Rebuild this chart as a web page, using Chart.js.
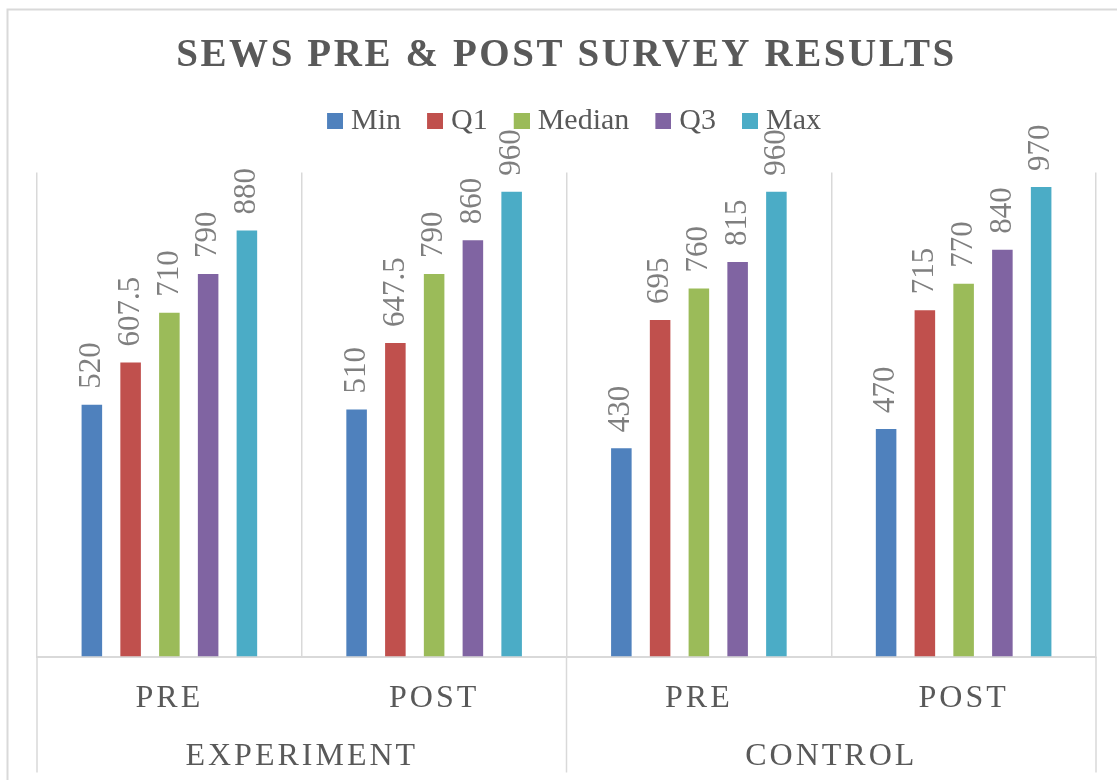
<!DOCTYPE html>
<html>
<head>
<meta charset="utf-8">
<title>SEWS Pre &amp; Post Survey Results</title>
<script src="https://cdn.jsdelivr.net/npm/chart.js@4.4.1/dist/chart.umd.min.js"></script>
<style>
  html, body { margin: 0; padding: 0; background: #fff; }
</style>
</head>
<body>
<canvas id="survey" width="1117" height="780"></canvas>
<script>
const categories = ['PRE', 'POST', 'PRE', 'POST'];
const groups = ['EXPERIMENT', 'CONTROL'];
const seriesNames = ['Min', 'Q1', 'Median', 'Q3', 'Max'];
const minValues = [520, 510, 430, 470];
const q1Values = [607.5, 647.5, 695, 715];
const medianValues = [710, 790, 760, 770];
const q3Values = [790, 860, 815, 840];
const maxValues = [880, 960, 960, 970];

const seriesValues = [minValues, q1Values, medianValues, q3Values, maxValues];
const seriesColors = ['#4f81bd', '#c0504d', '#9bbb59', '#8064a2', '#4bacc6'];

const serif = "'Liberation Serif', 'Times New Roman', serif";
const textColor = '#595959';
const lineColor = '#d9d9d9';

Chart.defaults.font.family = serif;
Chart.defaults.color = textColor;

// legend marker: transparent left part so the square sits close to its text
function legendMarker(color) {
  const c = document.createElement('canvas');
  c.width = 38;
  c.height = 16;
  const g = c.getContext('2d');
  g.fillStyle = color;
  g.fillRect(22, 0, 16, 16);
  return c;
}

// wraps a draw method so its text is drawn with letter spacing
function spaced(obj, method, amount) {
  if (!obj || obj[method]._spaced) return;
  const original = obj[method];
  const wrapped = function (...args) {
    const ctx = this.ctx;
    const before = ctx.letterSpacing;
    ctx.letterSpacing = amount;
    original.apply(this, args);
    ctx.letterSpacing = before;
  };
  wrapped._spaced = true;
  obj[method] = wrapped;
}

const layoutTweaks = {
  id: 'layoutTweaks',
  afterInit(chart) {
    const fit = chart.legend.fit;
    chart.legend.fit = function () {
      fit.call(this);
      this.height += 26;
    };
  },
  beforeDraw(chart) {
    spaced(chart.titleBlock, 'draw', '2.6px');
    spaced(chart.scales.x, 'drawLabels', '3px');
    spaced(chart.scales.x2, 'drawLabels', '3px');

    const ctx = chart.ctx;
    ctx.save();
    ctx.strokeStyle = lineColor;
    ctx.lineWidth = 2;
    ctx.beginPath();
    ctx.moveTo(7.5, chart.height);
    ctx.lineTo(7.5, 9.5);
    ctx.lineTo(chart.width, 9.5);
    ctx.stroke();
    ctx.restore();
  },
  afterDraw(chart) {
    // group separators running down through both label rows
    const x = chart.scales.x;
    const x2 = chart.scales.x2;
    const half = (x.getPixelForValue(1) - x.getPixelForValue(0)) / 2;
    const perGroup = categories.length / groups.length;
    const ctx = chart.ctx;
    ctx.save();
    ctx.strokeStyle = lineColor;
    ctx.lineWidth = 1.5;
    for (let g = 0; g <= groups.length; g++) {
      const px = x.getPixelForValue(g * perGroup) - half;
      ctx.beginPath();
      ctx.moveTo(px, chart.chartArea.bottom);
      ctx.lineTo(px, x2.bottom);
      ctx.stroke();
    }
    ctx.restore();
  }
};

const barValues = {
  id: 'barValues',
  afterDatasetsDraw(chart) {
    const ctx = chart.ctx;
    ctx.save();
    ctx.font = '31px ' + serif;
    ctx.fillStyle = '#7f7f7f';
    ctx.textAlign = 'left';
    ctx.textBaseline = 'middle';
    chart.data.datasets.forEach((ds, i) => {
      chart.getDatasetMeta(i).data.forEach((bar, j) => {
        ctx.save();
        ctx.translate(bar.x, bar.y - 16);
        ctx.rotate(-Math.PI / 2);
        ctx.fillText(String(ds.data[j]), 0, 0);
        ctx.restore();
      });
    });
    ctx.restore();
  }
};

const datasets = seriesNames.map((name, i) => ({
  label: name,
  data: seriesValues[i],
  backgroundColor: seriesColors[i],
  borderWidth: 0,
  barPercentage: 0.53,
  categoryPercentage: 0.732
}));

new Chart(document.getElementById('survey'), {
  type: 'bar',
  data: { labels: categories, datasets: datasets },
  options: {
    responsive: false,
    animation: false,
    layout: { padding: { left: 37, right: 21, top: 0, bottom: 7.5 } },
    plugins: {
      title: {
        display: true,
        text: 'SEWS PRE & POST SURVEY RESULTS',
        color: textColor,
        font: { size: 39, weight: 'bold', lineHeight: 1.2 },
        padding: { top: 32.6, bottom: 16 }
      },
      legend: {
        position: 'top',
        labels: {
          usePointStyle: true,
          pointStyleWidth: 24,
          padding: 11,
          font: { size: 30 },
          generateLabels: (chart) => chart.data.datasets.map((ds, i) => ({
            text: ds.label,
            fillStyle: ds.backgroundColor,
            strokeStyle: ds.backgroundColor,
            lineWidth: 0,
            pointStyle: legendMarker(ds.backgroundColor),
            fontColor: textColor,
            hidden: !chart.isDatasetVisible(i),
            datasetIndex: i
          }))
        }
      },
      tooltip: { enabled: false }
    },
    scales: {
      x: {
        offset: true,
        grid: { offset: true, color: lineColor, lineWidth: 1.5, drawTicks: false },
        border: { color: lineColor, width: 2 },
        ticks: { font: { size: 32, lineHeight: 1 }, color: textColor, padding: 26, maxRotation: 0, autoSkip: false }
      },
      x2: {
        type: 'category',
        labels: groups,
        position: 'bottom',
        weight: 1,
        offset: true,
        grid: { display: false, drawTicks: false },
        border: { display: false },
        ticks: { font: { size: 32, lineHeight: 1 }, color: textColor, padding: 0, maxRotation: 0, autoSkip: false }
      },
      y: { display: false, min: 0, max: 1000 }
    }
  },
  plugins: [layoutTweaks, barValues]
});
</script>
</body>
</html>
